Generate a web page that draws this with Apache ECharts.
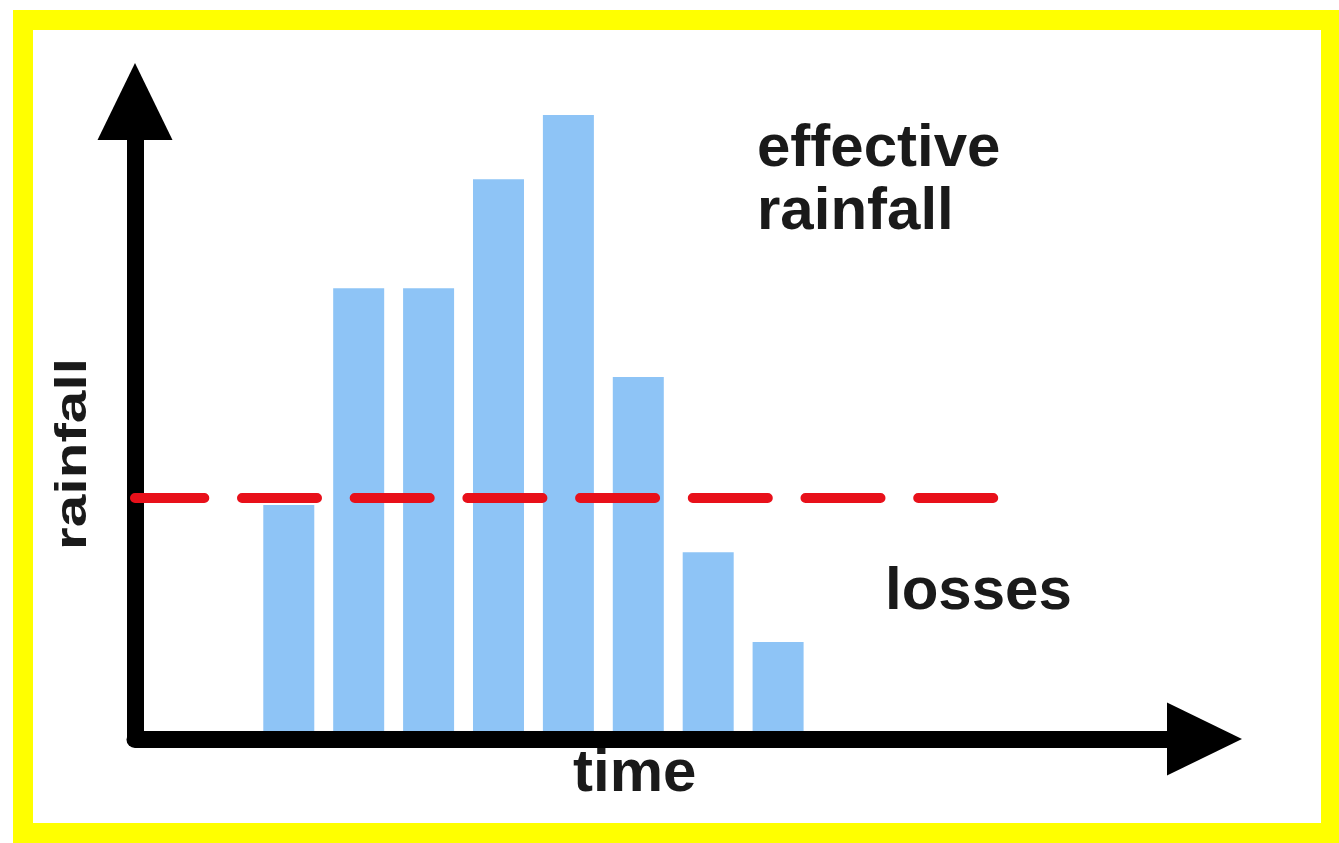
<!DOCTYPE html>
<html>
<head>
<meta charset="utf-8">
<script src="https://cdn.jsdelivr.net/npm/echarts@6/dist/echarts.min.js"></script>
<style>
  html, body { margin: 0; padding: 0; background: #fff; }
  #main { width: 1339px; height: 843px; }
</style>
</head>
<body>
<div id="main"></div>
<script>
// bar centres along the time axis and their rainfall heights
var times = [2.2, 3.2, 4.2, 5.2, 6.2, 7.2, 8.2, 9.2];
var rainfall = [36.7, 70.7, 70.7, 87.8, 97.9, 56.8, 29.3, 15.2];
// loss level (dashed line) and where it stops
var lossLevel = 37.8;
var lossSpan = [0, 12.3];

var myChart = echarts.init(document.getElementById('main'));

var barData = times.map(function (t, i) { return [t, rainfall[i]]; });
var lossData = lossSpan.map(function (t) { return [t, lossLevel]; });

var font = '"Liberation Sans", Arial, sans-serif';

myChart.setOption({
  animation: false,
  backgroundColor: '#ffffff',
  grid: { left: 135, right: 134.5, top: 101.5, bottom: 104 },
  xAxis: {
    type: 'value',
    min: 0,
    max: 15.3,
    z: 10,
    axisLine: {
      show: true,
      symbol: ['none', 'triangle'],
      symbolSize: [73, 75],
      lineStyle: { color: '#000', width: 17, cap: 'round' }
    },
    axisTick: { show: false },
    axisLabel: { show: false },
    splitLine: { show: false }
  },
  yAxis: {
    type: 'value',
    min: 0,
    max: 100,
    z: 10,
    axisLine: {
      show: true,
      symbol: ['none', 'triangle'],
      symbolSize: [75, 77],
      lineStyle: { color: '#000', width: 17, cap: 'round' }
    },
    axisTick: { show: false },
    axisLabel: { show: false },
    splitLine: { show: false }
  },
  series: [
    {
      name: 'rainfall',
      type: 'bar',
      barWidth: 51,
      itemStyle: { color: '#8ec4f6' },
      data: barData
    },
    {
      name: 'losses',
      type: 'line',
      symbol: 'none',
      z: 20,
      clip: false,
      lineStyle: { color: '#e8101a', width: 10, type: [75, 37.7], dashOffset: 5.7, cap: 'round' },
      data: lossData
    }
  ],
  graphic: [
    // yellow frame
    {
      type: 'rect',
      z: 100,
      shape: { x: 23, y: 20, width: 1308, height: 813 },
      style: { fill: 'none', stroke: '#ffff00', lineWidth: 20 }
    },
    {
      type: 'text', x: 757, y: 149, z: 50,
      style: { text: 'effective', font: 'bold 60px ' + font, fill: '#1a1a1a', verticalAlign: 'middle' }
    },
    {
      type: 'text', x: 757, y: 212, z: 50,
      style: { text: 'rainfall', font: 'bold 60px ' + font, fill: '#1a1a1a', verticalAlign: 'middle' }
    },
    {
      type: 'text', x: 885, y: 592, z: 50,
      style: { text: 'losses', font: 'bold 60px ' + font, fill: '#1a1a1a', verticalAlign: 'middle' }
    },
    {
      type: 'text', x: 573, y: 774, z: 50,
      style: { text: 'time', font: 'bold 60px ' + font, fill: '#1a1a1a', verticalAlign: 'middle' }
    },
    {
      type: 'text', x: 74, y: 454, z: 50, rotation: Math.PI / 2, scaleX: 1.3,
      style: { text: 'rainfall', font: 'bold 45px ' + font, fill: '#1a1a1a', align: 'center', verticalAlign: 'middle' }
    }
  ]
});
</script>
</body>
</html>
